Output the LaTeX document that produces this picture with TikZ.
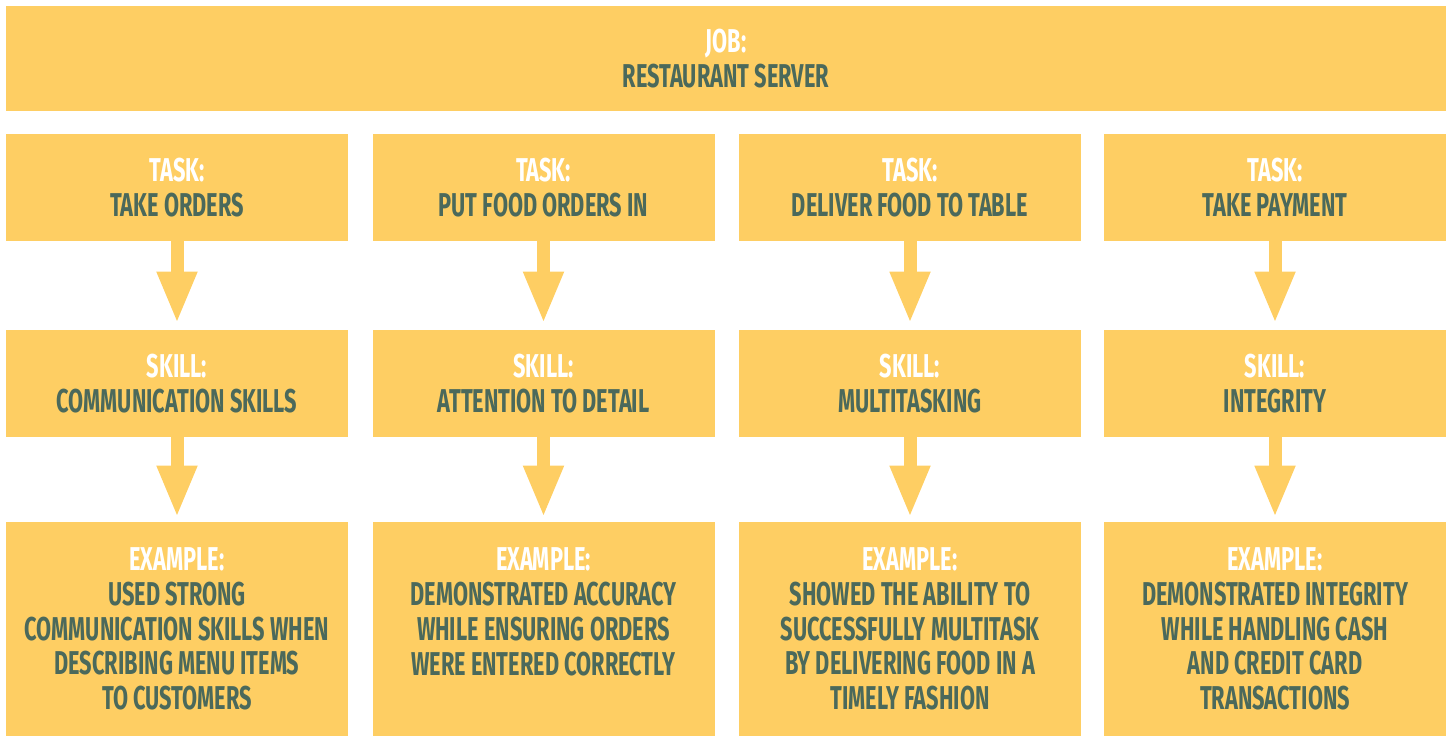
\documentclass[tikz,border=0pt]{standalone}
\usepackage{fontspec}
\setmainfont{Fira Sans}[FakeStretch=0.66]
\usetikzlibrary{arrows.meta}
\definecolor{boxyellow}{HTML}{FECE63}
\definecolor{textgreen}{HTML}{4B695B}
\tikzset{
    cell/.style={fill=boxyellow, draw=none, minimum width=171pt, align=center,
        font=\bfseries\fontsize{16.5}{17.4}\selectfont, text=textgreen, inner sep=0pt},
    down/.style={draw=boxyellow, line width=6.5pt, shorten >=3pt,
        -{Triangle[width=18.5pt, length=26pt]}}
}
\newcommand{\tag}[1]{\textcolor{white}{#1}}
\begin{document}
\begin{tikzpicture}[x=0.5pt, y=-0.5pt]
        \useasboundingbox (0, 0) rectangle (1451, 736);

        \node[cell, minimum width=720pt, minimum height=52.5pt] (job) at (726, 58.5) {\tag{JOB:}\\RESTAURANT SERVER};

        \node[cell, minimum height=53.5pt] (task1) at (177, 187.5) {\tag{TASK:}\\TAKE ORDERS};
        \node[cell, minimum height=53.5pt] (task2) at (543.5, 187.5) {\tag{TASK:}\\PUT FOOD ORDERS IN};
        \node[cell, minimum height=53.5pt] (task3) at (910, 187.5) {\tag{TASK:}\\DELIVER FOOD TO TABLE};
        \node[cell, minimum height=53.5pt] (task4) at (1275, 187.5) {\tag{TASK:}\\TAKE PAYMENT};

        \node[cell, minimum height=53.5pt] (skill1) at (177, 383.5) {\tag{SKILL:}\\COMMUNICATION SKILLS};
        \node[cell, minimum height=53.5pt] (skill2) at (543.5, 383.5) {\tag{SKILL:}\\ATTENTION TO DETAIL};
        \node[cell, minimum height=53.5pt] (skill3) at (910, 383.5) {\tag{SKILL:}\\MULTITASKING};
        \node[cell, minimum height=53.5pt] (skill4) at (1275, 383.5) {\tag{SKILL:}\\INTEGRITY};

        \node[cell, minimum height=107pt] (ex1) at (177, 629) {\tag{EXAMPLE:}\\USED STRONG\\COMMUNICATION SKILLS WHEN\\DESCRIBING MENU ITEMS\\TO CUSTOMERS};
        % three lines only, kept at the top like the others
        \node[cell, minimum height=107pt] (ex2) at (543.5, 629) {\tag{EXAMPLE:}\\DEMONSTRATED ACCURACY\\WHILE ENSURING ORDERS\\WERE ENTERED CORRECTLY\\\phantom{X}};
        \node[cell, minimum height=107pt] (ex3) at (910, 629) {\tag{EXAMPLE:}\\SHOWED THE ABILITY TO\\SUCCESSFULLY MULTITASK\\BY DELIVERING FOOD IN A\\TIMELY FASHION};
        \node[cell, minimum height=107pt] (ex4) at (1275, 629) {\tag{EXAMPLE:}\\DEMONSTRATED INTEGRITY\\WHILE HANDLING CASH\\AND CREDIT CARD\\TRANSACTIONS};

        \foreach \i in {1,...,4} {
            \draw[down] (task\i.south) -- (skill\i.north);
            \draw[down, shorten >=2pt] (skill\i.south) -- (ex\i.north);
        }

    \end{tikzpicture}
\end{document}
